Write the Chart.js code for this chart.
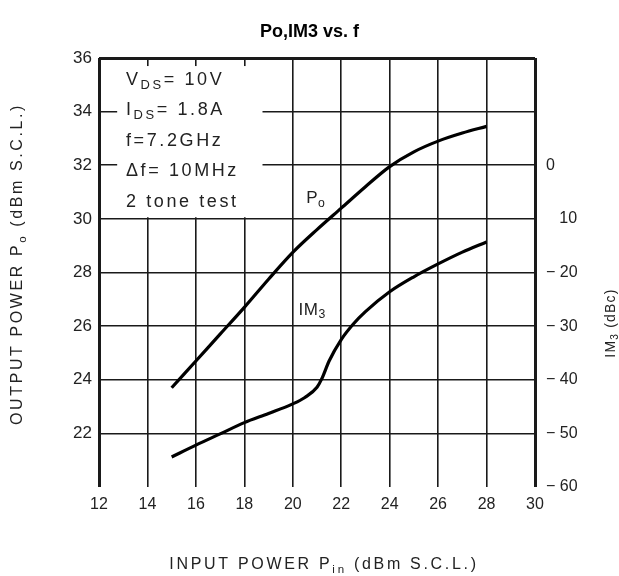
<!DOCTYPE html>
<html>
<head>
<meta charset="utf-8">
<script src="https://cdn.jsdelivr.net/npm/chart.js@4.4.1/dist/chart.umd.min.js"></script>
<style>
  html, body { margin: 0; padding: 0; background: #fff; }
  canvas { display: block; }
</style>
</head>
<body>
<canvas id="chart" width="619" height="576"></canvas>
<script>
// Po vs input power (left axis, dBm)
const inputPower = [15, 16, 17, 18, 19, 20, 21, 22, 23, 24, 25, 26, 27, 28];
const outputPower = [23.7, 24.7, 25.7, 26.7, 27.75, 28.75, 29.6, 30.4, 31.2, 31.95, 32.5, 32.9, 33.2, 33.45];

// IM3 vs input power (right axis, dBc)
const im3Input = [15, 16, 17, 18, 19, 20, 20.5, 21, 21.2, 21.5, 22, 22.5, 23, 24, 25, 26, 27, 28];
const im3Level = [-54.4, -52.2, -50.1, -48, -46.3, -44.5, -43.3, -41.4, -39.8, -36.5, -32.5, -29.6, -27.3, -23.6, -20.8, -18.4, -16.2, -14.3];

// axis ticks
const xTickValues = [12, 14, 16, 18, 20, 22, 24, 26, 28, 30];
const poTickValues = [22, 24, 26, 28, 30, 32, 34, 36];
const imTickValues = [0, -10, -20, -30, -40, -50, -60];
const imTickLabels = ['0', '\u2007 10', '\u2212 20', '\u2212 30', '\u2212 40', '\u2212 50', '\u2212 60'];

const conditions = [
    [{ t: 'V' }, { t: 'DS', sub: true }, { t: '= 10V' }],
    [{ t: 'I' }, { t: 'DS', sub: true }, { t: '= 1.8A' }],
    [{ t: 'f=7.2GHz' }],
    [{ t: '\u0394f= 10MHz' }],
    [{ t: '2 tone test' }],
];

const FONT = "'Liberation Sans', Arial, sans-serif";
const INK = '#222';

function drawRich(ctx, parts, x, y, size, spacing, angle, align) {
    ctx.save();
    ctx.translate(x, y);
    ctx.rotate(angle || 0);
    ctx.letterSpacing = spacing + 'px';
    ctx.fillStyle = INK;
    ctx.textBaseline = 'middle';
    ctx.textAlign = 'left';
    const widths = parts.map(p => {
        ctx.font = (p.sub ? size * 0.72 : size) + 'px ' + FONT;
        return ctx.measureText(p.t).width;
    });
    const total = widths.reduce((a, b) => a + b, 0);
    let cx = align === 'left' ? 0 : -total / 2;
    parts.forEach((p, i) => {
        ctx.font = (p.sub ? size * 0.72 : size) + 'px ' + FONT;
        ctx.fillText(p.t, cx, p.sub ? size * 0.28 : 0);
        cx += widths[i];
    });
    ctx.restore();
}

// white patch behind the test conditions, like the datasheet
const conditionBox = {
    id: 'conditionBox',
    beforeDatasetsDraw(chart) {
        const { ctx, scales: { x, y } } = chart;
        const l = x.getPixelForValue(12.75), r = x.getPixelForValue(18.75);
        const t = y.getPixelForValue(35.7), b = y.getPixelForValue(30.06);
        ctx.save();
        ctx.fillStyle = '#fff';
        ctx.fillRect(l, t, r - l, b - t);
        ctx.restore();
        conditions.forEach((line, i) => {
            drawRich(ctx, line, chart.chartArea.left + 27, chart.chartArea.top + 22 + i * 30.5, 18, 2.6, 0, 'left');
        });
    }
};

const textLayer = {
    id: 'textLayer',
    afterDraw(chart) {
        const { ctx, scales: { x, y } } = chart;
        drawRich(ctx, [{ t: 'P' }, { t: 'o', sub: true }], x.getPixelForValue(20.95), y.getPixelForValue(30.75), 17, 0.5, 0);
        drawRich(ctx, [{ t: 'IM' }, { t: '3', sub: true }], x.getPixelForValue(20.8), y.getPixelForValue(26.6), 17, 0.5, 0);
        drawRich(ctx, [{ t: 'OUTPUT POWER P' }, { t: 'o', sub: true }, { t: ' (dBm S.C.L.)' }], 18, 264, 16, 2.6, -Math.PI / 2);
        drawRich(ctx, [{ t: 'INPUT POWER P' }, { t: 'in', sub: true }, { t: ' (dBm S.C.L.)' }], 324, 565, 16, 2.7, 0);
        drawRich(ctx, [{ t: 'IM' }, { t: '3', sub: true }, { t: ' (dBc)' }], 611, 323, 14, 1.2, -Math.PI / 2);
    }
};

const edge = (min, max) => c => (c.tick && (c.tick.value === min || c.tick.value === max)) ? 3 : 1.6;

new Chart(document.getElementById('chart').getContext('2d'), {
    type: 'line',
    data: {
        datasets: [
            {
                label: 'Po',
                data: inputPower.map((v, i) => ({ x: v, y: outputPower[i] })),
                yAxisID: 'y',
                borderColor: '#000',
                borderWidth: 3.2,
                pointRadius: 0,
                cubicInterpolationMode: 'monotone',
            },
            {
                label: 'IM3',
                data: im3Input.map((v, i) => ({ x: v, y: im3Level[i] })),
                yAxisID: 'y2',
                borderColor: '#000',
                borderWidth: 3.2,
                pointRadius: 0,
                cubicInterpolationMode: 'monotone',
            },
        ],
    },
    options: {
        responsive: false,
        animation: false,
        layout: { padding: 0 },
        plugins: {
            legend: { display: false },
            tooltip: { enabled: false },
            title: {
                display: true,
                text: 'Po,IM3 vs. f',
                color: '#000',
                font: { family: FONT, size: 18, weight: 'bold', lineHeight: 1.2 },
                padding: { top: 21, bottom: 15.4 },
            },
        },
        scales: {
            x: {
                type: 'linear',
                min: 12,
                max: 30,
                afterBuildTicks: s => { s.ticks = xTickValues.map(v => ({ value: v })); },
                afterFit: s => { s.height = 89; },
                ticks: { color: INK, font: { family: FONT, size: 16 }, padding: 8, maxRotation: 0 },
                grid: { color: '#1a1a1a', lineWidth: edge(12, 30), drawTicks: false },
                border: { display: false },
            },
            y: {
                position: 'left',
                min: 20,
                max: 36,
                afterBuildTicks: s => { s.ticks = [20].concat(poTickValues).map(v => ({ value: v })); },
                afterFit: s => { s.width = 99; },
                ticks: {
                    color: INK,
                    font: { family: FONT, size: 17 },
                    padding: 7,
                    callback: v => (poTickValues.includes(v) ? String(v) : null),
                },
                grid: { color: '#1a1a1a', lineWidth: edge(20, 36), drawTicks: false },
                border: { display: false },
            },
            y2: {
                position: 'right',
                min: -60,
                max: 20,
                afterBuildTicks: s => { s.ticks = imTickValues.map(v => ({ value: v })); },
                afterFit: s => { s.width = 84; },
                ticks: {
                    color: INK,
                    font: { family: FONT, size: 16 },
                    padding: 11,
                    callback: v => {
                        const i = imTickValues.indexOf(v);
                        return i >= 0 ? imTickLabels[i] : null;
                    },
                },
                grid: { drawOnChartArea: false, drawTicks: false },
                border: { display: false },
            },
        },
    },
    plugins: [conditionBox, textLayer],
});
</script>
</body>
</html>
